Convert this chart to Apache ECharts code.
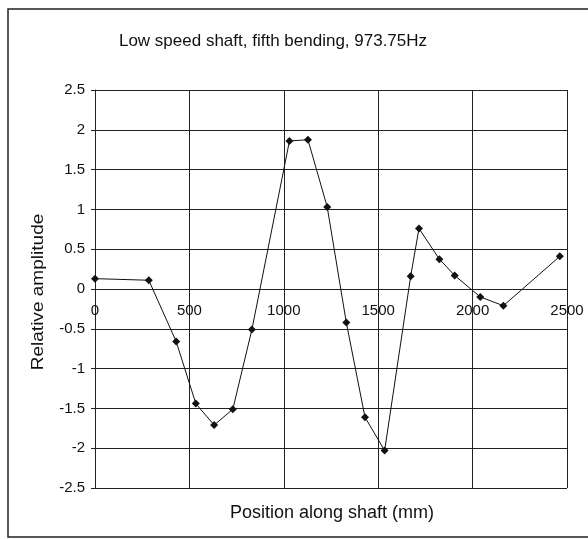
<!DOCTYPE html>
<html>
<head>
<meta charset="utf-8">
<script src="https://cdn.jsdelivr.net/npm/echarts@6/dist/echarts.min.js"></script>
<style>
  html, body { margin: 0; padding: 0; background: #fff; }
  #chart { width: 588px; height: 539px; }
</style>
</head>
<body>
<div id="chart"></div>
<script>
// positions along the shaft (mm) and relative amplitude
var positions = [0, 285, 430, 534, 631, 730, 831, 1030, 1128, 1230, 1331, 1430, 1534, 1672, 1716, 1824, 1905, 2041, 2163, 2462];
var amplitudes = [0.13, 0.11, -0.66, -1.44, -1.71, -1.51, -0.51, 1.86, 1.875, 1.03, -0.42, -1.61, -2.03, 0.16, 0.76, 0.375, 0.17, -0.10, -0.21, 0.41];

var titleText = 'Low speed shaft, fifth bending, 973.75Hz';
var xName = 'Position along shaft (mm)';
var yName = 'Relative amplitude';

var points = positions.map(function (p, i) { return [p, amplitudes[i]]; });

var myChart = echarts.init(document.getElementById('chart'));

var font = 'Liberation Sans, Arial, sans-serif';

// grid geometry: the x axis sits on the y = 0 line (middle of the plot)
var gridTop = 90, gridBottom = 51;
var plotH = 539 - gridTop - gridBottom;

var option = {
    backgroundColor: '#fff',
    animation: false,
    title: {
        text: titleText,
        left: 268,
        top: 28,
        textAlign: 'center',
        textStyle: { fontFamily: font, fontSize: 17, fontWeight: 'normal', color: '#111' }
    },
    graphic: [
        {
            type: 'polyline',
            shape: { points: [[600, 9], [8, 9], [8, 537], [600, 537]] },
            style: { stroke: '#222', lineWidth: 1.5, fill: null },
            silent: true
        },
        {
            type: 'text',
            x: 332,
            y: 513,
            style: { text: xName, font: '18px ' + font, fill: '#111', textAlign: 'center', textVerticalAlign: 'middle' }
        },
        {
            type: 'text',
            rotation: Math.PI / 2,
            x: 38,
            y: 292,
            scaleX: 1.12,
            style: { text: yName, font: '17px ' + font, fill: '#111', textAlign: 'center', textVerticalAlign: 'middle' }
        }
    ],
    grid: { left: 95, right: 21, top: gridTop, bottom: gridBottom, containLabel: false },
    xAxis: [{
        // axis line + labels, moved up onto the zero line
        type: 'value',
        min: 0,
        max: 2500,
        interval: 500,
        offset: -plotH / 2,
        axisLine: { onZero: false, lineStyle: { color: '#222', width: 1 } },
        axisTick: { show: true, length: 4, lineStyle: { color: '#222' } },
        axisLabel: {
            margin: 14, color: '#111', fontFamily: font, fontSize: 15,
            formatter: function (v) { return String(v); }
        },
        splitLine: { show: true, lineStyle: { color: '#222', width: 1 } }
    }],
    yAxis: {
        type: 'value',
        min: -2.5,
        max: 2.5,
        interval: 0.5,
        axisLine: { show: true, lineStyle: { color: '#222', width: 1 } },
        axisTick: { show: true, length: 4, lineStyle: { color: '#222' } },
        axisLabel: { margin: 10, color: '#111', fontFamily: font, fontSize: 15 },
        splitLine: { show: true, lineStyle: { color: '#222', width: 1 } }
    },
    series: [{
        type: 'line',
        data: points,
        symbol: 'diamond',
        symbolSize: 8,
        showAllSymbol: true,
        itemStyle: { color: '#111' },
        lineStyle: { color: '#111', width: 1 }
    }]
};

myChart.setOption(option);
</script>
</body>
</html>
